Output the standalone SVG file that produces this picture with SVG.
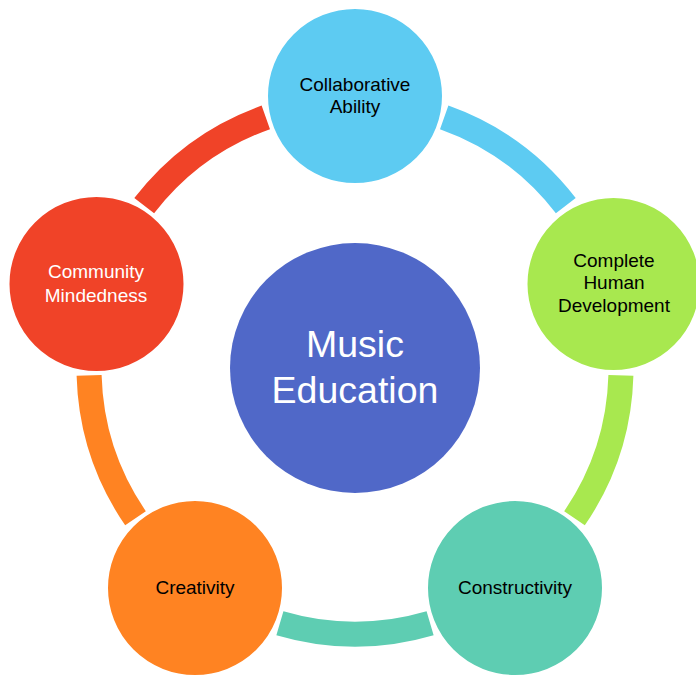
<svg xmlns="http://www.w3.org/2000/svg" width="696" height="675" viewBox="0 0 696 675">
<style>
.arc{fill:none;stroke-width:25;stroke-linecap:butt}
.node{stroke:#ffffff;stroke-width:2}
.lbl{font-family:"Liberation Sans",Arial,sans-serif;font-size:19px;text-anchor:middle;fill:#000000}
.w{fill:#ffffff}
.big{font-family:"Liberation Sans",Arial,sans-serif;font-size:37.5px;text-anchor:middle;fill:#ffffff}
</style>
<rect width="696" height="675" fill="#ffffff"/>
<g id="connectors">
<path class="arc" stroke="#5DCBF2" d="M444.2,117.4 A266,266 0 0 1 565.8,205.7"/>
<path class="arc" stroke="#A8E84F" d="M620.9,375.4 A266,266 0 0 1 574.5,518.3"/>
<path class="arc" stroke="#5ECDB2" d="M430.1,623.2 A266,266 0 0 1 279.9,623.2"/>
<path class="arc" stroke="#FF8322" d="M135.5,518.3 A266,266 0 0 1 89.1,375.4"/>
<path class="arc" stroke="#F04328" d="M144.2,205.7 A266,266 0 0 1 265.8,117.4"/>
</g>
<g id="center">
<circle cx="355" cy="368" r="125" fill="#5068C8"/>
<text class="big" x="355" y="357">Music</text>
<text class="big" x="355" y="403">Education</text>
</g>
<g id="collaborative">
<circle class="node" cx="355" cy="96" r="88" fill="#5DCBF2"/>
<text class="lbl" x="355" y="90.5">Collaborative</text>
<text class="lbl" x="355" y="112.5">Ability</text>
</g>
<g id="complete">
<circle class="node" cx="613.5" cy="284" r="87" fill="#A8E84F"/>
<text class="lbl" x="614" y="266.5">Complete</text>
<text class="lbl" x="614" y="289">Human</text>
<text class="lbl" x="614" y="311.5">Development</text>
</g>
<g id="constructivity">
<circle class="node" cx="515" cy="588" r="88" fill="#5ECDB2"/>
<text class="lbl" x="515" y="594">Constructivity</text>
</g>
<g id="creativity">
<circle class="node" cx="195" cy="588" r="88" fill="#FF8322"/>
<text class="lbl" x="195" y="594">Creativity</text>
</g>
<g id="community">
<circle class="node" cx="96.5" cy="284" r="88" fill="#F04328"/>
<text class="lbl w" x="96" y="278">Community</text>
<text class="lbl w" x="96" y="301.5">Mindedness</text>
</g>
</svg>
